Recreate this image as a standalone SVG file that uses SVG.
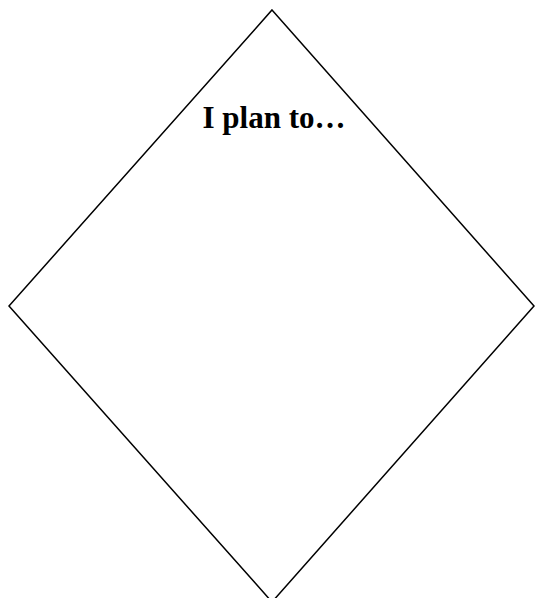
<svg xmlns="http://www.w3.org/2000/svg" width="535" height="598" viewBox="0 0 535 598">
<style>
.shape{fill:#fff;stroke:#000;stroke-width:1.5}
.lbl{font-family:"Liberation Serif","Times New Roman",serif;font-weight:bold;font-size:31px;fill:#000}
</style>
<rect width="535" height="598" fill="#fff"/>
<g id="diamond">
<polygon class="shape" points="272,10 534,306 272,602 9,306"/>
<text class="lbl" x="274" y="128" text-anchor="middle">I plan to…</text>
</g>
<g id="connectors"/>
</svg>
